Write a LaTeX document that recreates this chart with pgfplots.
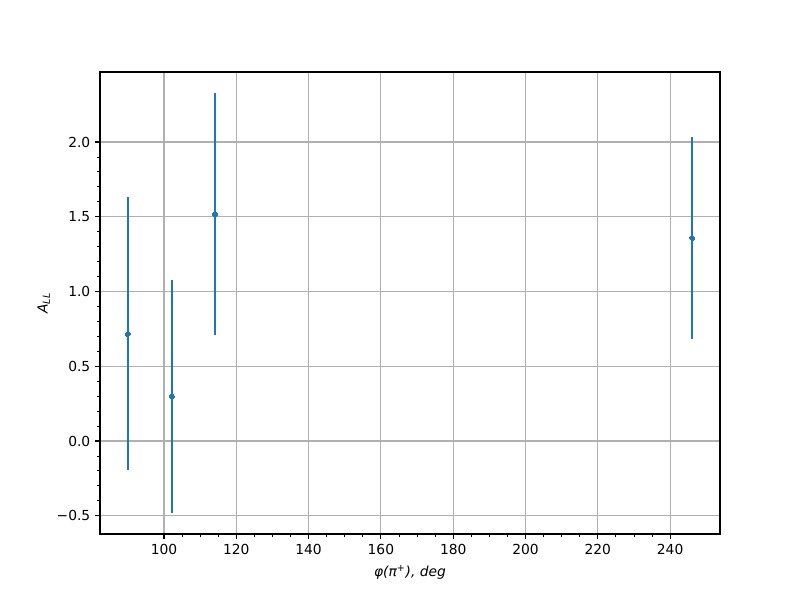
\documentclass[border=0pt]{standalone}
\usepackage{pgfplots}
\pgfplotsset{compat=1.18}
\usepackage{fontspec}
\setmainfont{DejaVu Sans}
\definecolor{mplblue}{HTML}{1F77B4}
\definecolor{mplgrid}{HTML}{B0B0B0}
\begin{document}
\fontsize{10}{12}\selectfont
\begin{tikzpicture}
\useasboundingbox (-1in,-0.66in) rectangle (7in,5.34in);
\begin{axis}[
  at={(0,0)}, anchor=south west,
  scale only axis, width=6.2in, height=4.62in,
  xmin=82.3, xmax=253.8, ymin=-0.622, ymax=2.468,
  xtick={100,120,...,240},
  ytick={-0.5,0,0.5,1,1.5,2},
  yticklabels={−0.5,0.0,0.5,1.0,1.5,2.0},
  minor x tick num=3, minor y tick num=4,
  tick pos=left, tick align=outside,
  major tick length=3.5pt, minor tick length=2pt,
  every tick/.style={black, line width=0.8pt},
  every minor tick/.style={black, line width=0.6pt},
  grid=major,
  major grid style={mplgrid, line width=0.8pt},
  axis line style={black, line width=0.8pt},
  /pgf/number format/assume math mode=true,
  ticklabel style={font=\fontsize{10}{12}\selectfont},
  xlabel={\itshape φ(π\textsuperscript{+}), deg},
  ylabel={\itshape A\textsubscript{LL}},
  label style={font=\fontsize{10}{12}\selectfont},
  xlabel style={yshift=-1pt},
  ylabel style={yshift=-2pt},
]
\addplot+[mplblue, line width=1.5pt, only marks, mark=*, mark size=1.8pt,
  mark options={fill=mplblue, draw=mplblue, line width=0pt},
  error bars/.cd, y dir=both, y explicit,
  error bar style={mplblue, line width=1.5pt},
  error mark=none]
  table[x=x, y=y, y error=e] {
  x y e
  90 0.716 0.913
  102.2 0.300 0.780
  114.1 1.518 0.808
  246.1 1.358 0.675
};
\end{axis}
\end{tikzpicture}
\end{document}
